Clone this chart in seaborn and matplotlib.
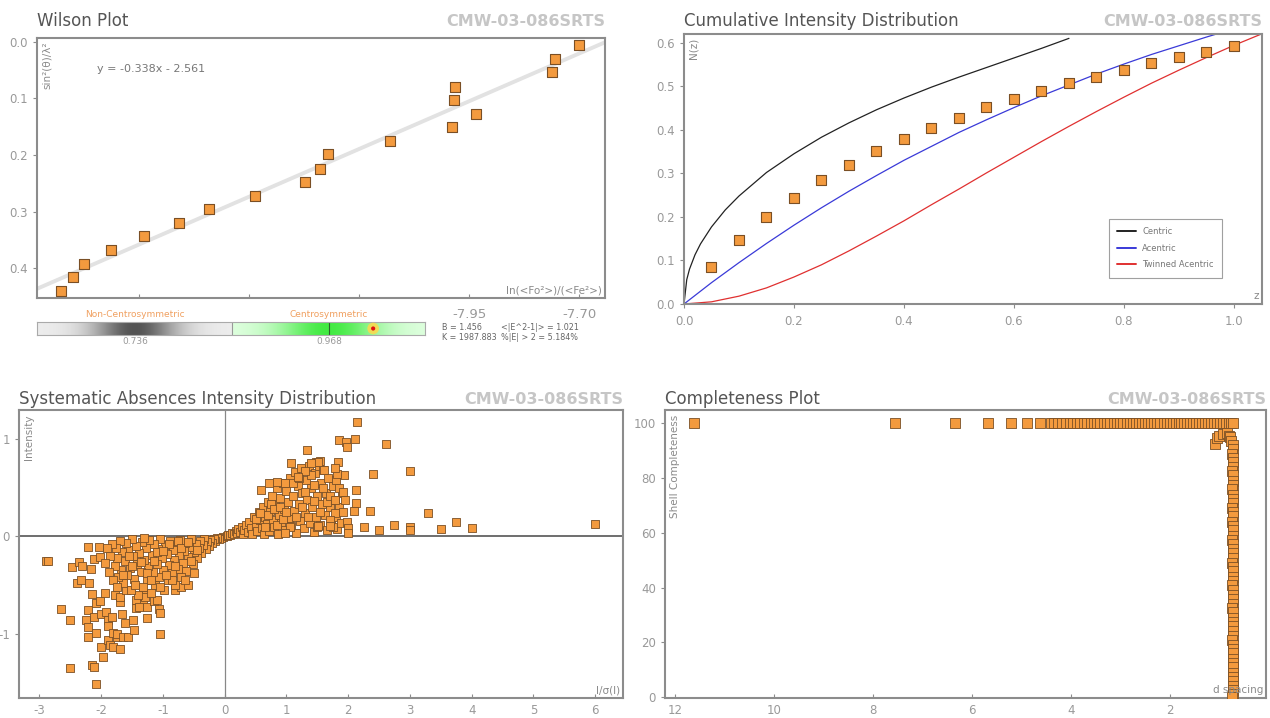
import numpy as np
import pandas as pd
import matplotlib
matplotlib.use('Agg')
import matplotlib.pyplot as plt
import seaborn as sns

sns.set_style('white')
plt.rcParams['font.family'] = ['DejaVu Sans']
plt.rcParams['axes.unicode_minus'] = False

SAMPLE = 'CMW-03-086SRTS'

# ---------------- data ----------------
# Wilson plot
wilson_x = [-8.877, -8.850, -8.826, -8.764, -8.689, -8.610, -8.542, -8.437, -8.323, -8.289,
            -8.270, -8.130, -7.988, -7.934, -7.985, -7.983, -7.762, -7.755, -7.699]
wilson_y = [0.441, 0.416, 0.392, 0.368, 0.344, 0.320, 0.296, 0.272, 0.248, 0.224,
            0.199, 0.175, 0.151, 0.127, 0.103, 0.079, 0.054, 0.031, 0.005]
wilson_fit = 'y = -0.338x - 2.561'
wilson_xticks = [-8.70, -8.45, -8.20, -7.95, -7.70]
wilson_xticklabels = ['', '', '', '-7.95', '-7.70']
wilson_yticks = [0.0, 0.1, 0.2, 0.3, 0.4]
acentric_ref = 0.736
centric_ref = 0.968
e2m1 = 1.021
stats_left = ['B = 1.456', 'K = 1987.883']
stats_right = ['<|E^2-1|> = 1.021', '%|E| > 2 = 5.184%']

# Cumulative intensity distribution
cid_z = [0.05, 0.10, 0.15, 0.20, 0.25, 0.30, 0.35, 0.40, 0.45, 0.50,
         0.55, 0.60, 0.65, 0.70, 0.75, 0.80, 0.85, 0.90, 0.95, 1.00]
cid_n = [0.086, 0.147, 0.199, 0.243, 0.284, 0.319, 0.351, 0.379, 0.405, 0.428,
         0.452, 0.471, 0.490, 0.507, 0.522, 0.538, 0.553, 0.567, 0.579, 0.592]
centric_z = [0, 0.005, 0.01, 0.02, 0.03, 0.05, 0.075, 0.1, 0.15, 0.2, 0.25, 0.3,
             0.35, 0.4, 0.45, 0.5, 0.55, 0.6, 0.65, 0.7]
centric_n = [0, 0.056, 0.080, 0.113, 0.138, 0.177, 0.216, 0.248, 0.302, 0.345, 0.383, 0.416,
             0.446, 0.473, 0.498, 0.521, 0.543, 0.565, 0.587, 0.610]
acentric_z = [0, 0.05, 0.1, 0.15, 0.2, 0.25, 0.3, 0.35, 0.4, 0.45, 0.5, 0.55,
              0.6, 0.65, 0.7, 0.75, 0.8, 0.85, 0.9, 0.95, 1.0]
acentric_n = [0, 0.049, 0.095, 0.139, 0.181, 0.221, 0.259, 0.295, 0.330, 0.362, 0.394, 0.423,
              0.451, 0.478, 0.503, 0.528, 0.551, 0.573, 0.593, 0.613, 0.632]
twinned_z = [0, 0.05, 0.1, 0.15, 0.2, 0.25, 0.3, 0.35, 0.4, 0.45, 0.5, 0.55,
             0.6, 0.65, 0.7, 0.75, 0.8, 0.85, 0.9, 0.95, 1.0, 1.05]
twinned_n = [0, 0.005, 0.018, 0.037, 0.062, 0.090, 0.122, 0.156, 0.191, 0.228, 0.264, 0.301,
             0.337, 0.373, 0.408, 0.442, 0.475, 0.507, 0.537, 0.566, 0.594, 0.620]

# Systematic absences: I/sigma(I) vs intensity
sa_x_neg_out = [-2.89, -2.86, -2.645, -2.51, -2.51, -2.47, -2.39, -2.32, -2.36, -2.31, -2.21, -2.22,
                -2.24, -2.21, -2.21, -2.20, -2.16, -2.14, -2.14, -2.11, -2.09, -2.12, -2.11, -2.03,
                -2.02, -2.08, -2.09, -2.02, -2.00, -1.97, -1.94, -2.00, -1.92, -1.89, -1.83, -1.89,
                -1.89, -1.85, -1.80, -1.74, -1.69, -1.80, -1.74, -1.65, -1.56, -1.66, -1.62, -1.46,
                -1.49, -1.05, -1.44, -1.33, -1.78, -1.70, -1.06, -1.05, -1.25, -1.15, -1.30, -0.80,
                -0.70, -0.60, -1.43, -1.29, -1.10, -1.38, -1.70, -1.59, -1.25]
sa_y_neg_out = [-0.257, -0.250, -0.746, -0.856, -1.353, -0.315, -0.479, -0.452, -0.260, -0.300, -0.103, -0.753,
                -0.856, -0.935, -1.038, -0.480, -0.335, -0.589, -1.319, -1.342, -1.517, -0.829, -0.229, -0.103,
                -0.206, -0.987, -0.685, -0.658, -1.137, -1.240, -0.582, -0.795, -0.771, -0.856, -0.829, -0.925,
                -1.062, -1.113, -1.137, -1.028, -1.157, -0.987, -1.000, -1.038, -1.028, -0.795, -0.890, -0.959,
                -0.863, -1.003, -0.736, -0.695, -0.600, -0.678, -0.750, -0.790, -0.720, -0.660, -0.600, -0.550,
                -0.520, -0.500, -0.650, -0.620, -0.650, -0.720, -0.620, -0.550, -0.840]
sa_x_neg = [-0.03, -0.06, -0.09, -0.12, -0.15, -0.18, -0.20, -0.23, -0.25, -0.28, -0.30, -0.33,
            -0.35, -0.38, -0.40, -0.42, -0.45, -0.47, -0.50, -0.52, -0.55, -0.57, -0.60, -0.62,
            -0.64, -0.66, -0.68, -0.70, -0.72, -0.74, -0.76, -0.78, -0.80, -0.82, -0.84, -0.86,
            -0.88, -0.90, -0.92, -0.94, -0.96, -0.98, -1.00, -1.02, -1.04, -1.06, -1.08, -1.10,
            -1.12, -1.14, -1.16, -1.18, -1.20, -1.22, -1.24, -1.26, -1.28, -1.30, -1.32, -1.34,
            -1.36, -1.38, -1.40, -1.42, -1.44, -1.46, -1.48, -1.50, -1.52, -1.54, -1.56, -1.58,
            -1.60, -1.62, -1.64, -1.66, -1.68, -1.70, -1.72, -1.74, -1.76, -1.78, -1.80, -1.82,
            -1.85, -1.88, -1.90, -1.93, -0.50, -0.55, -0.65, -0.75, -0.85, -0.95, -1.05, -1.10,
            -1.15, -1.25, -1.35, -1.45, -1.50, -1.55, -1.65, -1.75, -0.70, -0.80, -0.90, -1.00,
            -1.20, -1.30, -0.60, -0.45]
sa_y_neg = [-0.01, -0.02, -0.03, -0.02, -0.05, -0.03, -0.07, -0.04, -0.10, -0.06, -0.13, -0.03,
            -0.09, -0.17, -0.05, -0.12, -0.22, -0.08, -0.16, -0.28, -0.03, -0.11, -0.21, -0.35,
            -0.07, -0.15, -0.27, -0.42, -0.04, -0.19, -0.33, -0.10, -0.50, -0.24, -0.14, -0.38,
            -0.05, -0.29, -0.45, -0.18, -0.09, -0.55, -0.34, -0.22, -0.03, -0.42, -0.13, -0.28,
            -0.50, -0.08, -0.37, -0.19, -0.58, -0.04, -0.30, -0.45, -0.12, -0.24, -0.52, -0.06,
            -0.36, -0.17, -0.60, -0.28, -0.10, -0.44, -0.20, -0.03, -0.55, -0.32, -0.14, -0.40,
            -0.07, -0.25, -0.48, -0.16, -0.34, -0.05, -0.42, -0.22, -0.12, -0.30, -0.45, -0.08,
            -0.20, -0.36, -0.12, -0.27, -0.38, -0.25, -0.45, -0.05, -0.45, -0.40, -0.52, -0.16,
            -0.25, -0.38, -0.26, -0.50, -0.30, -0.20, -0.40, -0.52, -0.12, -0.30, -0.08, -0.15,
            -0.45, -0.02, -0.06, -0.14]
sa_x_pos = [0.03, 0.06, 0.09, 0.12, 0.15, 0.18, 0.20, 0.22, 0.25, 0.28, 0.30, 0.32,
            0.35, 0.37, 0.40, 0.42, 0.45, 0.47, 0.50, 0.52, 0.55, 0.57, 0.60, 0.62,
            0.63, 0.65, 0.68, 0.70, 0.72, 0.74, 0.76, 0.78, 0.80, 0.82, 0.84, 0.86,
            0.88, 0.90, 0.92, 0.94, 0.96, 0.98, 1.00, 1.02, 1.04, 1.06, 1.08, 1.10,
            1.12, 1.14, 1.16, 1.18, 1.20, 1.22, 1.24, 1.26, 1.28, 1.30, 1.32, 1.34,
            1.36, 1.38, 1.40, 1.42, 1.44, 1.46, 1.48, 1.50, 1.52, 1.54, 1.56, 1.58,
            1.60, 1.62, 1.64, 1.66, 1.68, 1.70, 1.72, 1.75, 1.78, 1.80, 1.82, 1.85,
            1.88, 1.90, 1.92, 1.95, 1.98, 0.50, 0.58, 0.66, 0.70, 0.75, 0.80, 0.85,
            0.90, 0.95, 1.00, 1.05, 1.10, 1.15, 1.20, 1.25, 1.30, 1.35, 1.40, 1.45,
            1.50, 1.55, 1.60, 1.65, 1.70, 1.75, 1.80, 1.85]
sa_y_pos = [0.01, 0.02, 0.02, 0.04, 0.03, 0.06, 0.04, 0.08, 0.05, 0.10, 0.03, 0.07,
            0.12, 0.05, 0.15, 0.09, 0.03, 0.20, 0.12, 0.06, 0.25, 0.17, 0.09, 0.30,
            0.03, 0.20, 0.13, 0.35, 0.06, 0.26, 0.42, 0.17, 0.10, 0.32, 0.50, 0.03,
            0.22, 0.40, 0.14, 0.55, 0.28, 0.07, 0.47, 0.35, 0.19, 0.60, 0.11, 0.42,
            0.26, 0.66, 0.04, 0.52, 0.33, 0.16, 0.70, 0.45, 0.09, 0.24, 0.58, 0.38,
            0.72, 0.14, 0.50, 0.30, 0.05, 0.65, 0.20, 0.42, 0.72, 0.12, 0.55, 0.33,
            0.68, 0.22, 0.45, 0.07, 0.60, 0.30, 0.15, 0.52, 0.38, 0.20, 0.08, 0.30,
            0.14, 0.45, 0.25, 0.38, 0.15, 0.18, 0.24, 0.10, 0.22, 0.33, 0.28, 0.12,
            0.30, 0.18, 0.25, 0.10, 0.55, 0.20, 0.60, 0.30, 0.46, 0.20, 0.63, 0.36,
            0.10, 0.25, 0.50, 0.35, 0.42, 0.10, 0.58, 0.50]
sa_x_pos_out = [2.14, 1.85, 1.97, 1.98, 2.11, 2.62, 1.33, 2.41, 3.00, 1.08, 1.48, 1.55,
                1.84, 2.13, 2.12, 0.59, 2.36, 2.09, 3.29, 2.75, 3.00, 3.00, 2.25, 2.50,
                2.00, 2.00, 3.50, 3.75, 4.00, 6.00, 1.93, 1.82, 1.79, 1.61, 1.51, 1.40,
                1.30, 1.18, 0.98, 0.85, 0.72, 1.45, 1.91, 1.79, 1.79, 1.70, 1.71, 1.51, 0.98]
sa_y_pos_out = [1.172, 0.994, 0.966, 0.919, 1.007, 0.953, 0.891, 0.644, 0.672, 0.754, 0.761, 0.771,
                0.761, 0.473, 0.343, 0.473, 0.267, 0.257, 0.240, 0.117, 0.097, 0.062, 0.097, 0.062,
                0.086, 0.035, 0.076, 0.144, 0.086, 0.127, 0.634, 0.644, 0.702, 0.685, 0.764, 0.753,
                0.668, 0.616, 0.548, 0.565, 0.548, 0.531, 0.462, 0.377, 0.240, 0.171, 0.103, 0.103, 0.034]
sa_x = sa_x_neg_out + sa_x_neg + sa_x_pos + sa_x_pos_out
sa_y = sa_y_neg_out + sa_y_neg + sa_y_pos + sa_y_pos_out

# Completeness: d spacing vs shell completeness
comp_d = [11.63, 7.55, 6.35, 5.68, 5.21, 4.89, 4.62, 4.41, 4.33, 4.25, 4.17, 4.10, 4.02, 3.95,
          3.88, 3.81, 3.74, 3.67, 3.60, 3.53, 3.46, 3.40, 3.33, 3.26, 3.20, 3.13, 3.07, 3.00,
          2.94, 2.87, 2.81, 2.75, 2.68, 2.62, 2.56, 2.50, 2.43, 2.37, 2.31, 2.25, 2.19, 2.12,
          2.06, 2.00, 1.94, 1.88, 1.82, 1.76, 1.70, 1.64, 1.58, 1.52, 1.46, 1.40, 1.34, 1.28,
          1.22, 1.16, 1.10, 1.04, 0.98, 0.92, 0.86, 0.80, 0.75, 0.71,
          1.09, 1.05, 1.01, 0.93, 0.845, 0.80, 0.78, 0.75, 0.72,
          0.72, 0.73, 0.72, 0.71, 0.72, 0.73, 0.72, 0.71, 0.72, 0.74, 0.72, 0.71, 0.72, 0.73,
          0.72, 0.71, 0.74, 0.72, 0.71, 0.72, 0.73, 0.72, 0.71, 0.72, 0.72, 0.73, 0.71, 0.72,
          0.72, 0.71, 0.73, 0.72, 0.72, 0.71, 0.72, 0.73, 0.72, 0.71, 0.72, 0.72, 0.71, 0.72,
          0.73, 0.72, 0.71, 0.72, 0.72, 0.71, 0.72, 0.72, 0.71, 0.72, 0.72, 0.71, 0.72, 0.73]
comp_pct = [100] * 66 + [92.3, 94.5, 95.4, 96.0, 96.4, 95.5, 94.9, 93.5, 92.1,
            90.5, 89.0, 87.5, 86.0, 84.0, 82.5, 81.0, 79.0, 77.5, 76.0, 74.0, 72.5, 71.0, 69.0,
            67.5, 66.0, 64.0, 62.5, 61.0, 59.0, 57.5, 56.0, 54.0, 52.5, 51.0, 49.0, 47.5, 46.0,
            44.0, 42.5, 41.0, 39.0, 37.5, 36.0, 34.0, 32.5, 31.0, 29.0, 27.5, 26.0, 24.0, 22.5,
            21.0, 19.0, 17.5, 16.0, 14.0, 12.5, 11.0, 9.0, 7.5, 6.0, 4.0, 2.5, 1.0, 0.0]

# ---------------- style ----------------
FACE = '#f39a3e'
EDGE = '#7a4f25'
SPINE = '#8c8c8c'
TICK = '#999999'
LAB = '#8a8a8a'

W, H = 1270, 718
fig = plt.figure(figsize=(W / 100, H / 100), dpi=100)


def frame(rect, title, pad):
    l, t, r, b = rect
    ax = fig.add_axes([l / W, 1 - b / H, (r - l) / W, (b - t) / H])
    for sp in ax.spines.values():
        sp.set_color(SPINE)
        sp.set_linewidth(1.5)
    ax.tick_params(length=3, width=0.8, color=SPINE, labelcolor=TICK, labelsize=8.5,
                   left=True, bottom=True)
    ax.set_title(title, loc='left', fontsize=12, color='#555555', pad=pad)
    ax.set_title(SAMPLE, loc='right', fontsize=11.5, color='#c6c6c6', fontweight='bold', pad=pad)
    return ax


def inner_labels(ax, ylab, xlab):
    ax.set_xlabel('')
    ax.set_ylabel('')
    ax.text(0.008, 0.985, ylab, rotation=90, ha='left', va='top', fontsize=7.5,
            color=LAB, transform=ax.transAxes)
    ax.text(0.995, 0.01, xlab, ha='right', va='bottom', fontsize=7.5,
            color=LAB, transform=ax.transAxes)


# ---- Wilson plot ----
ax1 = frame((37, 38, 605, 298), 'Wilson Plot', 8.5)
wdf = pd.DataFrame({'x': wilson_x, 'y': wilson_y})
ax1.set_xlim(-8.932, -7.641)
ax1.set_ylim(0.453, -0.007)
sns.regplot(data=wdf, x='x', y='y', scatter=False, ci=None, truncate=False,
            line_kws={'color': '#e2e2e2', 'lw': 2.8, 'zorder': 1}, ax=ax1)
sns.scatterplot(data=wdf, x='x', y='y', marker='s', s=50, color=FACE, edgecolor=EDGE,
                linewidth=0.8, zorder=3, ax=ax1)
ax1.set_xlim(-8.932, -7.641)
ax1.set_ylim(0.453, -0.007)
ax1.set_xticks(wilson_xticks)
ax1.set_xticklabels(wilson_xticklabels)
ax1.set_yticks(wilson_yticks)
ax1.set_yticklabels([f'{v:.1f}' for v in wilson_yticks])
ax1.tick_params(axis='x', direction='in', labelsize=9.5, pad=7)
ax1.text(0.105, 0.87, wilson_fit, fontsize=8, color='#777777', transform=ax1.transAxes)
inner_labels(ax1, 'sin²(θ)/λ²', 'ln(<Fo²>)/(<Fe²>)')

# gauge under the Wilson plot
g_lo, g_hi = 0.619, 1.083
split = (acentric_ref + centric_ref) / 2
gax = fig.add_axes([37 / W, 1 - 335 / H, 388 / W, 13 / H])
xs = np.linspace(g_lo, g_hi, 800)
rgb = np.ones((1, xs.size, 3))
grey = 0.93 - 0.6 * np.exp(-((xs - acentric_ref) / 0.05) ** 2)
a = np.exp(-((xs - centric_ref) / 0.06) ** 2)
left = xs < split
rgb[0, left, :] = grey[left, None]
rgb[0, ~left, 0] = 0.88 - 0.62 * a[~left]
rgb[0, ~left, 1] = 1.0 - 0.08 * a[~left]
rgb[0, ~left, 2] = 0.88 - 0.62 * a[~left]
gax.imshow(rgb, extent=[g_lo, g_hi, 0, 1], aspect='auto')
gax.axvline(split, color='#999999', lw=0.8)
gax.axvline(centric_ref, color='#2f5f2f', lw=0.8)
gax.scatter([e2m1], [0.5], s=70, color='#ffd84a', alpha=0.85, edgecolor='none', zorder=3)
gax.scatter([e2m1], [0.5], s=9, color='#e01010', edgecolor='none', zorder=4)
gax.set_xlim(g_lo, g_hi)
gax.set_ylim(0, 1)
gax.set_xticks([])
gax.set_yticks([])
for sp in gax.spines.values():
    sp.set_color('#aaaaaa')
    sp.set_linewidth(0.8)
gax.text(acentric_ref, 1.25, 'Non-Centrosymmetric', ha='center', va='bottom', fontsize=6.5,
         color='#f0a060')
gax.text(centric_ref, 1.25, 'Centrosymmetric', ha='center', va='bottom', fontsize=6.5,
         color='#f0a060')
gax.text(acentric_ref, -0.15, f'{acentric_ref:.3f}', ha='center', va='top', fontsize=6.5,
         color='#999999')
gax.text(centric_ref, -0.15, f'{centric_ref:.3f}', ha='center', va='top', fontsize=6.5,
         color='#999999')
fig.text(442 / W, 1 - 327 / H, stats_left[0], fontsize=5.8, color='#666666', va='center')
fig.text(442 / W, 1 - 338 / H, stats_left[1], fontsize=5.8, color='#666666', va='center')
fig.text(501 / W, 1 - 327 / H, stats_right[0], fontsize=5.8, color='#666666', va='center')
fig.text(501 / W, 1 - 338 / H, stats_right[1], fontsize=5.8, color='#666666', va='center')

# ---- Cumulative intensity distribution ----
ax2 = frame((684, 34, 1262, 304), 'Cumulative Intensity Distribution', 5.7)
sns.lineplot(x=centric_z, y=centric_n, color='#222222', lw=0.9, label='Centric', ax=ax2)
sns.lineplot(x=acentric_z, y=acentric_n, color='#3a3ad8', lw=0.9, label='Acentric', ax=ax2)
sns.lineplot(x=twinned_z, y=twinned_n, color='#e03030', lw=0.9, label='Twinned Acentric', ax=ax2)
sns.scatterplot(x=cid_z, y=cid_n, marker='s', s=46, color=FACE, edgecolor=EDGE,
                linewidth=0.8, zorder=3, ax=ax2)
ax2.set_xlim(0, 1.051)
ax2.set_ylim(0, 0.62)
ax2.set_xticks([0, 0.2, 0.4, 0.6, 0.8, 1.0])
ax2.set_xticklabels(['0.0', '0.2', '0.4', '0.6', '0.8', '1.0'])
ax2.set_yticks([0, 0.1, 0.2, 0.3, 0.4, 0.5, 0.6])
ax2.set_yticklabels(['0.0', '0.1', '0.2', '0.3', '0.4', '0.5', '0.6'])
ax2.tick_params(axis='x', pad=5)
leg = ax2.legend(loc='upper left', bbox_to_anchor=(0.728, 0.33), fontsize=6, frameon=True,
                 fancybox=False, handlelength=2.2, borderpad=1.0, labelspacing=0.9,
                 edgecolor='#888888', labelcolor='#777777')
leg.get_frame().set_linewidth(0.8)
for line in leg.get_lines():
    line.set_linewidth(1.4)
inner_labels(ax2, 'N(z)', 'z')

# ---- Systematic absences ----
ax3 = frame((19, 410, 623, 698), 'Systematic Absences Intensity Distribution', 4.3)
ax3.axhline(0, color='#555555', lw=1.2, zorder=1)
ax3.axvline(0, color='#888888', lw=0.9, zorder=1)
sns.scatterplot(x=sa_x, y=sa_y, marker='s', s=34, color=FACE, edgecolor=EDGE,
                linewidth=0.6, zorder=3, ax=ax3)
ax3.set_xlim(-3.33, 6.45)
ax3.set_ylim(-1.66, 1.30)
ax3.set_xticks(range(-3, 7))
ax3.set_yticks([-1, 0, 1])
ax3.tick_params(axis='x', direction='in', pad=4)
inner_labels(ax3, 'Intensity', 'I/σ(I)')

# ---- Completeness ----
ax4 = frame((665, 410, 1266, 698), 'Completeness Plot', 4.3)
sns.scatterplot(x=comp_d, y=comp_pct, marker='s', s=42, color=FACE, edgecolor=EDGE,
                linewidth=0.6, zorder=3, ax=ax4)
ax4.set_xlim(12.21, 0.05)
ax4.set_ylim(-0.3, 104.9)
ax4.set_xticks([12, 10, 8, 6, 4, 2])
ax4.set_yticks([0, 20, 40, 60, 80, 100])
ax4.tick_params(axis='x', direction='in', pad=4)
inner_labels(ax4, 'Shell Completeness', 'd spacing')

fig.savefig('out.png', dpi=100)
